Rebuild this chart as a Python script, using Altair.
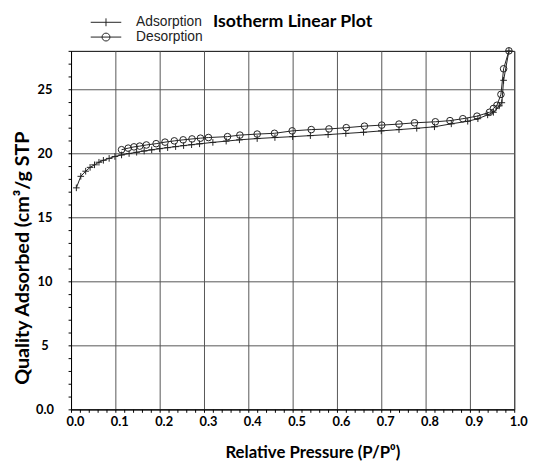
import altair as alt
import pandas as pd

# Adsorption branch (relative pressure, quantity adsorbed)
ads_p = [0.012, 0.022, 0.033, 0.043, 0.053, 0.063, 0.073, 0.086, 0.099, 0.114,
         0.131, 0.148, 0.165, 0.182, 0.200, 0.218, 0.236, 0.254, 0.272, 0.290,
         0.320, 0.350, 0.380, 0.420, 0.460, 0.500, 0.540, 0.580, 0.620, 0.660,
         0.700, 0.740, 0.780, 0.820, 0.858, 0.895, 0.918, 0.940, 0.953, 0.966,
         0.972, 0.976, 0.988]
ads_q = [17.3, 18.2, 18.6, 18.9, 19.1, 19.3, 19.45, 19.6, 19.75, 19.87,
         19.98, 20.08, 20.18, 20.27, 20.36, 20.44, 20.52, 20.6, 20.67, 20.74,
         20.85, 20.95, 21.05, 21.15, 21.23, 21.3, 21.38, 21.46, 21.55, 21.64,
         21.75, 21.85, 21.95, 22.07, 22.3, 22.5, 22.7, 23.0, 23.2, 23.7,
         23.95, 25.7, 28.0]

# Desorption branch
des_p = [0.114, 0.129, 0.142, 0.155, 0.170, 0.192, 0.212, 0.233, 0.253, 0.273,
         0.292, 0.310, 0.353, 0.381, 0.420, 0.459, 0.499, 0.542, 0.582, 0.621,
         0.662, 0.701, 0.740, 0.775, 0.822, 0.855, 0.884, 0.916, 0.944, 0.953,
         0.961, 0.970, 0.976, 0.988]
des_q = [20.28, 20.4, 20.5, 20.56, 20.65, 20.75, 20.87, 20.97, 21.05, 21.12,
         21.18, 21.23, 21.3, 21.42, 21.5, 21.56, 21.75, 21.85, 21.9, 22.0,
         22.12, 22.2, 22.28, 22.38, 22.46, 22.55, 22.7, 22.9, 23.2, 23.5,
         23.75, 24.6, 26.6, 28.0]

series_names = ["Adsorption", "Desorption"]
x_tick_values = [round(i * 0.02, 2) for i in range(51)]   # minor every 0.02, major every 0.1
y_tick_values = list(range(0, 29))                        # minor every 1, major every 5

df = pd.concat([
    pd.DataFrame({"p": ads_p, "q": ads_q, "series": series_names[0]}),
    pd.DataFrame({"p": des_p, "q": des_q, "series": series_names[1]}),
], ignore_index=True)

x_major_test = "round(datum.value*50) % 5 === 0"
y_major_test = "datum.value % 5 === 0"

x_enc = alt.X(
    "p:Q",
    scale=alt.Scale(domain=[0, 1], nice=False, zero=False),
    axis=alt.Axis(
        title="Relative Pressure (P/P⁰)",
        values=x_tick_values,
        tickCount=200,
        labelExpr=f"{x_major_test} ? format(datum.value, '.1f') : ''",
        labelOverlap=False,
        labelFlush=False,
        labelPadding=3,
        labelOffset=4,
        tickSize=3,
        grid=True,
        gridOpacity={"condition": {"test": x_major_test, "value": 1}, "value": 0},
        titleX=245,
        titleY=44,
        titleBaseline="middle",
        titleAlign="center",
        titleFontSize=17,
    ),
)
y_enc = alt.Y(
    "q:Q",
    scale=alt.Scale(domain=[0, 28], nice=False),
    axis=alt.Axis(
        title="Quality Adsorbed (cm³/g STP",
        values=y_tick_values,
        tickCount=200,
        labelExpr=f"datum.value === 0 ? '0.0' : ({y_major_test} ? format(datum.value, 'd') : '')",
        labelOverlap=False,
        labelFlush=False,
        labelAlign="center",
        labelBaseline="middle",
        labelPadding=24,
        tickSize=3,
        grid=True,
        gridOpacity={"condition": {"test": y_major_test, "value": 1}, "value": 0},
        titleX=-49,
        titleY=210,
        titleAngle=270,
        titleBaseline="middle",
        titleAlign="center",
        titleFontSize=20,
    ),
)

plus_path = "M-1,0H1M0,-1V1"
leg_ads = "M-3.1,0H3.1M0,-0.8V0.8"
leg_des = "M-3.1,0H3.1M-0.8,0A0.8,0.8 0 1,0 0.8,0A0.8,0.8 0 1,0 -0.8,0"

lines = alt.Chart(df).mark_line(color="#222", strokeWidth=1).encode(
    x=x_enc, y=y_enc, detail="series:N", order="p:Q"
)

points = alt.Chart(df).mark_point(filled=False, size=45, strokeWidth=1, color="#222", opacity=1).encode(
    x=alt.X("p:Q"),
    y=alt.Y("q:Q"),
    shape=alt.Shape(
        "series:N",
        scale=alt.Scale(domain=series_names, range=[plus_path, "circle"]),
        legend=None,
    ),
)

legend_layer = alt.Chart(df).transform_filter("false").mark_point(
    filled=False, size=100, strokeWidth=1, color="#222", opacity=1
).encode(
    x=alt.X("p:Q"),
    y=alt.Y("q:Q"),
    shape=alt.Shape(
        "series:N",
        scale=alt.Scale(domain=series_names, range=[leg_ads, leg_des]),
        legend=alt.Legend(
            title=None,
            orient="none",
            legendX=28.5,
            legendY=-36,
            symbolSize=100,
            labelOffset=23.5,
            rowPadding=1,
            padding=0,
            labelFont="Liberation Sans",
            labelFontSize=14,
            labelFontWeight="normal",
            labelColor="#222",
            symbolStrokeColor="#222",
            symbolFillColor="transparent",
            symbolStrokeWidth=1,
            symbolOpacity=1,
        ),
    ),
)

chart = (
    alt.layer(lines, points, legend_layer)
    .resolve_scale(shape="independent")
    .properties(
        width=450,
        height=364,
        padding={"left": 64, "top": 40, "right": 16, "bottom": 54},
        autosize=alt.AutoSizeParams(type="none"),
        title=alt.TitleParams(
            "Isotherm Linear Plot",
            font="Lato",
            fontSize=18,
            fontWeight="bold",
            anchor="middle",
            frame="group",
            baseline="alphabetic",
            offset=-13,
            dy=17,
            color="black",
        ),
        background="white",
    )
    .configure_view(stroke="black", strokeWidth=1)
    .configure_axis(
        labelFont="Lato",
        labelFontWeight="bold",
        labelFontSize=13,
        labelColor="black",
        titleFont="Lato",
        titleFontWeight="bold",
        titleColor="black",
        domainColor="black",
        tickColor="black",
        gridColor="#555",
        gridWidth=1,
    )
)

chart.save("out.html", embed_options={"renderer": "svg", "actions": False})
